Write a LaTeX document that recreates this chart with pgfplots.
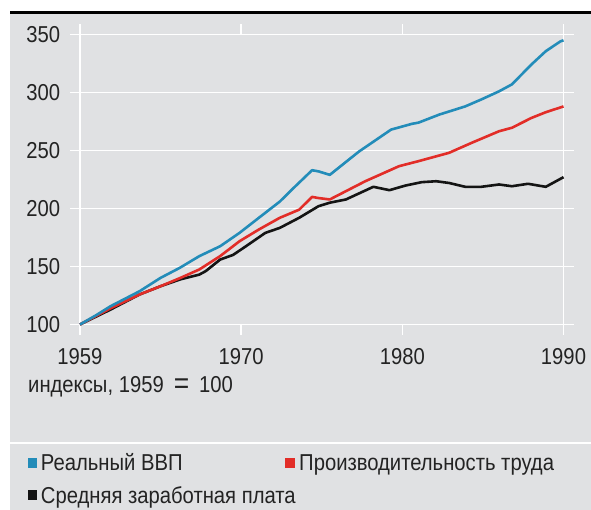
\documentclass[border=0pt]{standalone}
\usepackage{pgfplots}
\pgfplotsset{compat=1.18}
\usepackage{fontspec}
\setmainfont{Liberation Sans}[FakeStretch=0.88]
\definecolor{bggray}{RGB}{224,225,227}
\definecolor{gdpblue}{RGB}{35,140,185}
\definecolor{prodred}{RGB}{226,45,40}
\definecolor{wageblack}{RGB}{20,20,20}
\definecolor{txtgray}{RGB}{35,35,35}
\begin{document}
\fontsize{23pt}{27pt}\selectfont
\begin{tikzpicture}[x=1pt,y=1pt]
\useasboundingbox (0,0) rectangle (591,-510);
\fill[white] (0,0) rectangle (591,-510);
\fill[bggray] (10,-13) rectangle (591,-510);
\fill[black] (10,-11.5) rectangle (591,-14.5);
\draw[white, line width=2pt] (10,-443) -- (591,-443);
\begin{axis}[
  at={(80pt,-324.5pt)}, anchor=south west,
  scale only axis, width=483.5pt, height=290pt,
  xmin=1960, xmax=1990, ymin=100, ymax=350,
  xtick={1960,1970,1980,1990},
  xticklabels={1959,1970,1980,1990},
  ytick={100,150,200,250,300,350},
  /pgf/number format/assume math mode=true,
  axis line style={white, line width=1.6pt},
  ymajorgrids, grid style={white, line width=1.6pt},
  tick style={white, line width=1.6pt},
  tick align=outside, major tick length=10pt,
  ticklabel style={font=\fontsize{23pt}{27pt}\selectfont, text=txtgray},
  xticklabel style={yshift=-6pt},
  yticklabel style={xshift=-2pt},
  clip=false,
]
\addplot[wageblack, line width=2.6pt, line join=round] coordinates {
(1960,100) (1961.9,112.9) (1963.7,125.9) (1965.0,133) (1966.2,138.8) (1967.4,143)
(1967.8,146) (1968.7,156) (1969.5,160) (1970.3,167.5) (1971.5,179) (1972.4,183.3)
(1973.6,192) (1974.8,202) (1975.5,205) (1976.5,207.8) (1978.2,218.7) (1979.2,215.8)
(1980.2,219.8) (1981.2,222.7) (1982.1,223.5) (1982.9,222) (1983.9,218.7) (1984.9,218.7)
(1986.0,220.7) (1986.8,219.2) (1987.8,221.3) (1988.9,218.7) (1990,227)
};
\addplot[prodred, line width=2.6pt, line join=round] coordinates {
(1960,100) (1961.9,114) (1963.7,125.9) (1965.0,133) (1966.2,140) (1967.4,147.4)
(1968.7,159) (1969.9,171.8) (1971.1,181.9) (1972.4,192) (1973.6,199) (1974.4,210)
(1974.8,209) (1975.5,207.8) (1977.7,223.5) (1979.8,236.5) (1981.0,240.8) (1982.9,248)
(1984.3,256.6) (1986.0,266.6) (1986.8,269.6) (1988.0,278) (1988.9,283) (1990,288)
};
\addplot[gdpblue, line width=2.6pt, line join=round] coordinates {
(1960,100) (1961.0,108) (1961.9,115.8) (1963.7,128.7) (1965.0,140.2) (1966.2,148.9)
(1967.4,158.9) (1968.7,167.5) (1969.9,179) (1971.1,192) (1972.4,206) (1973.2,217)
(1974.4,233) (1974.8,232) (1975.5,229) (1977.3,249) (1979.3,268) (1980.6,273)
(1981.0,274) (1982.3,281) (1983.9,288) (1984.9,294) (1986.0,301) (1986.8,307)
(1988.0,324) (1988.9,335.6) (1989.8,344) (1990,345)
};
\end{axis}
\node[anchor=base west, inner sep=0, text=txtgray] at (28,-392) {индексы, 1959\hspace{10pt}\raisebox{-1.5pt}{\fontsize{30pt}{30pt}\selectfont =}\hspace{10pt}100};
\fill[gdpblue] (28.3,-458) rectangle (36.7,-468.3);
\node[anchor=base west, inner sep=0, text=txtgray] at (40.7,-470.7) {Реальный ВВП};
\fill[prodred] (285,-458) rectangle (295,-468.3);
\node[anchor=base west, inner sep=0, text=txtgray] at (299,-470.7) {Производительность труда};
\fill[wageblack] (28.3,-490) rectangle (36.7,-500);
\node[anchor=base west, inner sep=0, text=txtgray] at (40.7,-503) {Средняя заработная плата};
\end{tikzpicture}
\end{document}
